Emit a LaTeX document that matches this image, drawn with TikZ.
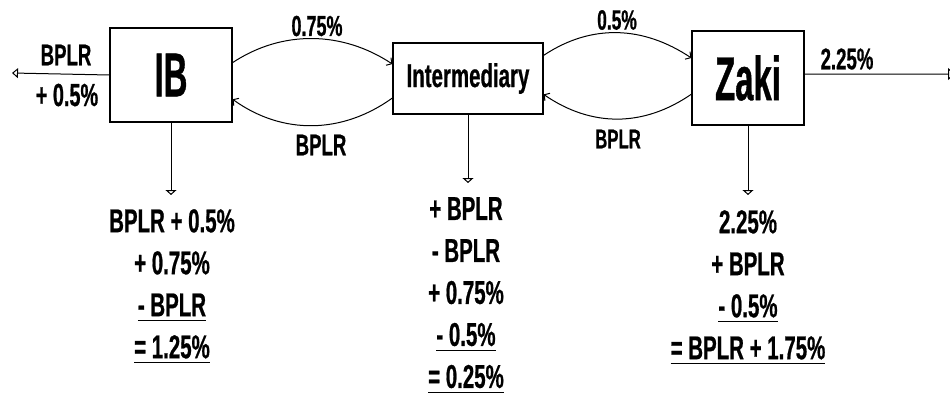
\documentclass[tikz,border=0pt]{standalone}
\usepackage{fontspec}
\setmainfont[FakeStretch=0.62, BoldFeatures={FakeBold=0.6}]{Liberation Sans}
\newfontfamily\bigface[FakeStretch=0.53, BoldFeatures={FakeBold=0.6}]{Liberation Sans}
\usetikzlibrary{arrows.meta,calc}
% underline that spans exactly the width of its text
\newcommand\undr[1]{\setbox0=\hbox{#1}\rlap{\rule[-5pt]{\wd0}{1.3pt}}\box0}
\tikzset{
  party/.style={draw, line width=1.2pt, inner sep=0pt},
  bigname/.style={font=\bigface\bfseries\fontsize{62}{64}\selectfont},
  midname/.style={font=\bfseries\fontsize{33}{38}\selectfont},
  lbl/.style={inner sep=0pt, font=\bfseries\fontsize{#1}{#1}\selectfont},
  calcblock/.style={anchor=north, inner sep=0pt, align=center,
    font=\bfseries\fontsize{33}{42}\selectfont},
  flow/.style={line width=1pt},
  bendtip/.style={flow, -{Straight Barb[length=4pt,width=9pt]}},
  downtip/.style={flow, -{Triangle[open,length=5pt,width=11pt]}},
}
\begin{document}
\begin{tikzpicture}[x=1pt,y=-1pt]
\useasboundingbox (0,0) rectangle (950,394);

% the three parties
\node[party, bigname, minimum width=122pt, minimum height=94pt] (ib) at (171,75) {IB};
\node[party, midname, minimum width=150pt, minimum height=71pt] (mid) at (468,78.5) {Intermediary};
\node[party, bigname, minimum width=112pt, minimum height=94pt] (zaki) at (748,78) {Zaki};

% outer flows
\coordinate (lend) at (12,73);
\coordinate (rend) at (955,74);
\draw[flow, -{Triangle[open,length=6pt,width=10pt]}] (ib.west) -- (lend);
\draw[flow, -{Triangle[open,length=7pt,width=12pt]}]
  ($(zaki.north east)!0.46!(zaki.south east)$) -- (rend);
\node[lbl=30] (lt) at (66,55) {BPLR};
\node[lbl=32] (lb) at (67,95) {+ 0.5\%};
\node[lbl=30] (rt) at (847,59) {2.25\%};

% IB <-> Intermediary
\draw[bendtip] ($(ib.north east)!0.37!(ib.south east)$)
  .. controls +(50,-33) and +(-50,-33) .. ($(mid.north west)!0.30!(mid.south west)$);
\draw[bendtip] ($(mid.north west)!0.77!(mid.south west)$)
  .. controls +(-50,36) and +(50,36) .. ($(ib.north east)!0.755!(ib.south east)$);
\node[lbl=29] (l1) at (317,26) {0.75\%};
\node[lbl=30] (l2) at (321,145) {BPLR};

% Intermediary <-> Zaki
\draw[bendtip] ($(mid.north east)!0.18!(mid.south east)$)
  .. controls +(48,-32) and +(-48,-32) .. ($(zaki.north west)!0.29!(zaki.south west)$);
\draw[bendtip] ($(zaki.north west)!0.67!(zaki.south west)$)
  .. controls +(-48,33) and +(48,33) .. ($(mid.north east)!0.72!(mid.south east)$);
\node[lbl=28] (l3) at (617,20) {0.5\%};
\node[lbl=27] (l4) at (618,139) {BPLR};

% net positions
\node[calcblock] (ibsum) at (172,209)
  {BPLR + 0.5\%\\ + 0.75\%\\ \undr{- BPLR}\\ \undr{= 1.25\%}};
\node[calcblock] (midsum) at (466,197)
  {+ BPLR\\ - BPLR\\ + 0.75\%\\ \undr{- 0.5\%}\\ \undr{= 0.25\%}};
\node[calcblock] (zakisum) at (748,210)
  {2.25\%\\ + BPLR\\ \undr{- 0.5\%}\\ \undr{= BPLR + 1.75\%}};

\draw[downtip, shorten >=14pt] (ib.south) -- (ib.south |- ibsum.north);
\draw[downtip, shorten >=14pt] (mid.south) -- (mid.south |- midsum.north);
\draw[downtip, shorten >=15pt] (zaki.south) -- (zaki.south |- zakisum.north);
\end{tikzpicture}
\end{document}
